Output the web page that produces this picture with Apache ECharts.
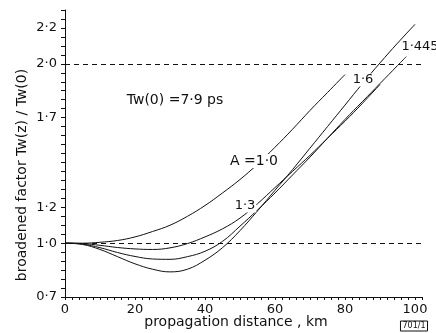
<!DOCTYPE html>
<html>
<head>
<meta charset="utf-8">
<script src="https://cdn.jsdelivr.net/npm/echarts@6/dist/echarts.min.js"></script>
<style>
  html, body { margin: 0; padding: 0; background: #fff; }
  #chart { width: 436px; height: 333px; }
</style>
</head>
<body>
<div id="chart"></div>
<script>
// propagation distance, km
const kmA10 = [0, 5, 10, 15, 20, 25, 30, 35, 40, 45, 50, 55, 60, 65, 70, 75, 80];
const kmA13 = [0, 5, 10, 15, 20, 25, 30, 35, 40, 45, 50, 55, 60, 65, 70, 75, 80, 85, 90];
const kmA1445 = [0, 5, 10, 15, 20, 25, 30, 35, 40, 45, 50, 55, 60, 65, 70, 75, 80, 85, 90, 95, 97.5];
const kmA16 = [0, 5, 10, 15, 20, 25, 30, 35, 40, 45, 50, 55, 60, 65, 70, 75, 80, 85, 90, 95, 100];

// broadened factor Tw(z)/Tw(0)
const factorA10 = [1.0, 1.0, 1.005, 1.015, 1.035, 1.065, 1.10, 1.15, 1.21, 1.28, 1.355, 1.44, 1.535, 1.635, 1.74, 1.84, 1.94];
const factorA13 = [1.0, 0.998, 0.988, 0.976, 0.968, 0.965, 0.974, 0.998, 1.035, 1.08, 1.14, 1.22, 1.31, 1.40, 1.49, 1.585, 1.68, 1.78, 1.885];
const factorA1445 = [1.0, 0.995, 0.975, 0.948, 0.926, 0.912, 0.91, 0.925, 0.955, 1.01, 1.095, 1.185, 1.28, 1.38, 1.48, 1.585, 1.69, 1.79, 1.89, 1.99, 2.04];
const factorA16 = [1.0, 0.993, 0.965, 0.925, 0.885, 0.855, 0.84, 0.855, 0.905, 0.975, 1.07, 1.18, 1.295, 1.41, 1.53, 1.65, 1.77, 1.89, 2.005, 2.115, 2.22];

const refLevels = [1.0, 2.0];
const yLabelValues = [0.7, 1.0, 1.2, 1.7, 2.0, 2.2];
const xLabelValues = [0, 20, 40, 60, 80, 100];

const font = '"DejaVu Sans", sans-serif';
const ink = '#111';

function pairs(xs, ys) {
  return xs.map((x, i) => [x, ys[i]]);
}

function curve(name, xs, ys, extra) {
  return Object.assign({
    name: name,
    type: 'line',
    data: pairs(xs, ys),
    smooth: 0.4,
    symbol: 'none',
    lineStyle: { color: ink, width: 1 },
    z: 3
  }, extra || {});
}

const chart = echarts.init(document.getElementById('chart'));

chart.setOption({
  animation: false,
  backgroundColor: '#fff',
  grid: { left: 65, right: 14, top: 10, bottom: 36 },
  xAxis: {
    type: 'value',
    min: 0,
    max: 102,
    interval: 2,
    axisLine: { lineStyle: { color: ink, width: 1 } },
    axisTick: { show: true, length: 3, interval: 0, lineStyle: { color: ink } },
    splitLine: { show: false },
    axisLabel: {
      interval: 0,
      margin: 6,
      color: ink,
      fontFamily: font,
      fontSize: 13,
      formatter: (v) => xLabelValues.includes(v) ? String(v) : ''
    }
  },
  yAxis: {
    type: 'value',
    min: 0.7,
    max: 2.3,
    interval: 0.05,
    axisLine: { show: true, lineStyle: { color: ink, width: 1 } },
    axisTick: { show: true, length: 4, interval: 0, lineStyle: { color: ink } },
    splitLine: { show: false },
    axisLabel: {
      interval: 0,
      margin: 8,
      color: ink,
      fontFamily: font,
      fontSize: 13,
      formatter: (v) => yLabelValues.some(t => Math.abs(t - v) < 1e-6) ? v.toFixed(1).replace('.', '·') : ''
    }
  },
  series: [
    curve('A=1.0', kmA10, factorA10, {
      markLine: {
        silent: true,
        symbol: 'none',
        label: { show: false },
        lineStyle: { color: ink, width: 1, type: [5, 4] },
        data: refLevels.map(v => ({ yAxis: v }))
      }
    }),
    curve('1.3', kmA13, factorA13),
    curve('1.445', kmA1445, factorA1445),
    curve('1.6', kmA16, factorA16)
  ],
  graphic: [
    {
      type: 'text', z: 100, rotation: Math.PI / 2, x: 22, y: 175,
      style: { text: 'broadened factor Tw(z) / Tw(0)', font: '14px ' + font, fill: ink, align: 'center', verticalAlign: 'middle' }
    },
    {
      type: 'text', z: 100, x: 236, y: 322,
      style: { text: 'propagation distance , km', font: '14px ' + font, fill: ink, align: 'center', verticalAlign: 'middle' }
    },
    {
      type: 'text', z: 100, x: 175, y: 100,
      style: { text: 'Tw(0) =7·9 ps', font: '14px ' + font, fill: ink, align: 'center', verticalAlign: 'middle' }
    },
    {
      type: 'text', z: 100, x: 254, y: 161,
      style: { text: 'A =1·0', font: '14px ' + font, fill: ink, align: 'center', verticalAlign: 'middle', backgroundColor: '#fff', padding: [0, 1] }
    },
    {
      type: 'text', z: 100, x: 245, y: 206,
      style: { text: '1·3', font: '13px ' + font, fill: ink, align: 'center', verticalAlign: 'middle', backgroundColor: '#fff', padding: [0, 1] }
    },
    {
      type: 'text', z: 100, x: 363, y: 80,
      style: { text: '1·6', font: '13px ' + font, fill: ink, align: 'center', verticalAlign: 'middle', backgroundColor: '#fff', padding: [0, 1] }
    },
    {
      type: 'text', z: 100, x: 420, y: 47,
      style: { text: '1·445', font: '13px ' + font, fill: ink, align: 'center', verticalAlign: 'middle' }
    },
    {
      type: 'text', z: 100, x: 414, y: 326,
      style: { text: '701/1', font: '8px ' + font, fill: ink, align: 'center', verticalAlign: 'middle', borderColor: ink, borderWidth: 1, padding: [1, 2] }
    }
  ]
});
</script>
</body>
</html>
